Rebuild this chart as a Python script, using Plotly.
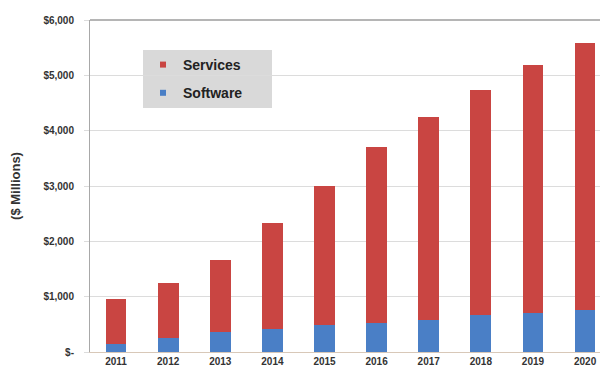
import plotly.graph_objects as go

years = ["2011", "2012", "2013", "2014", "2015", "2016", "2017", "2018", "2019", "2020"]
software = [150, 260, 360, 410, 480, 530, 570, 660, 710, 760]
totals = [960, 1250, 1670, 2330, 3000, 3700, 4250, 4730, 5190, 5590]
services = [t - s for t, s in zip(totals, software)]
y_ticks = [0, 1000, 2000, 3000, 4000, 5000, 6000]
y_tick_labels = ["$-", "$1,000", "$2,000", "$3,000", "$4,000", "$5,000", "$6,000"]

RED = "#c94542"
BLUE = "#4a7fc6"
FONT = "Liberation Sans"

fig = go.Figure()
fig.add_trace(go.Bar(x=years, y=software, name="Software", marker_color=BLUE,
                     marker_line_width=0, showlegend=False))
fig.add_trace(go.Bar(x=years, y=services, name="Services", marker_color=RED,
                     marker_line_width=0, showlegend=False))
# legend entries (small square symbols)
fig.add_trace(go.Scatter(x=[None], y=[None], mode="markers", name="Services",
                         legendgroup="a",
                         marker=dict(symbol="square", size=6, color=RED)))
fig.add_trace(go.Scatter(x=[None], y=[None], mode="markers", name="Software",
                         legendgroup="b",
                         marker=dict(symbol="square", size=6, color=BLUE)))

# page body has an 8px margin: figure is 600x365 placed at (8, 8)
fig.update_layout(
    width=600, height=365,
    margin=dict(l=82, r=0, t=12, b=21),
    barmode="stack", bargap=0.6,
    paper_bgcolor="white", plot_bgcolor="white",
    font=dict(family=FONT, size=10, color="#333333", weight="bold"),
    showlegend=True,
    legend=dict(x=(143 - 90) / 518, y=(352 - 49) / 332, xanchor="left", yanchor="top",
                bgcolor="rgba(0,0,0,0)", traceorder="grouped",
                font=dict(family=FONT, size=14, color="#222222", weight="bold"),
                itemwidth=30, tracegroupgap=7),
    shapes=[
        dict(type="rect", xref="paper", yref="paper",
             x0=(143 - 90) / 518, x1=(272 - 90) / 518,
             y0=(352 - 108) / 332, y1=(352 - 50) / 332,
             fillcolor="#d9d9d9", line_width=0, layer="below"),
        dict(type="line", xref="paper", yref="paper", x0=0, x1=1, y0=1, y1=1,
             line=dict(color="#b5b5b5", width=2)),
    ],
    xaxis=dict(range=[-0.5, 9.44], showgrid=False, showline=True, automargin=False,
               linecolor="#d8c8b8", linewidth=1, ticks="",
               tickfont=dict(family=FONT, size=10, color="#333333", weight="bold")),
    yaxis=dict(range=[0, 6000], tickvals=y_ticks, ticktext=y_tick_labels,
               automargin=False,
               showgrid=True, gridcolor="#dcdcdc", gridwidth=1,
               showline=True, linecolor="#a8a8a8", linewidth=1,
               ticks="outside", ticklen=5, tickcolor="#dcdcdc",
               ticklabelstandoff=8,
               zeroline=False,
               tickfont=dict(family=FONT, size=10, color="#333333", weight="bold"),
               title=dict(text="($ Millions)", standoff=20,
                          font=dict(family=FONT, size=13, color="#333333", weight="bold"))),
)

fig.write_html("out.html")
